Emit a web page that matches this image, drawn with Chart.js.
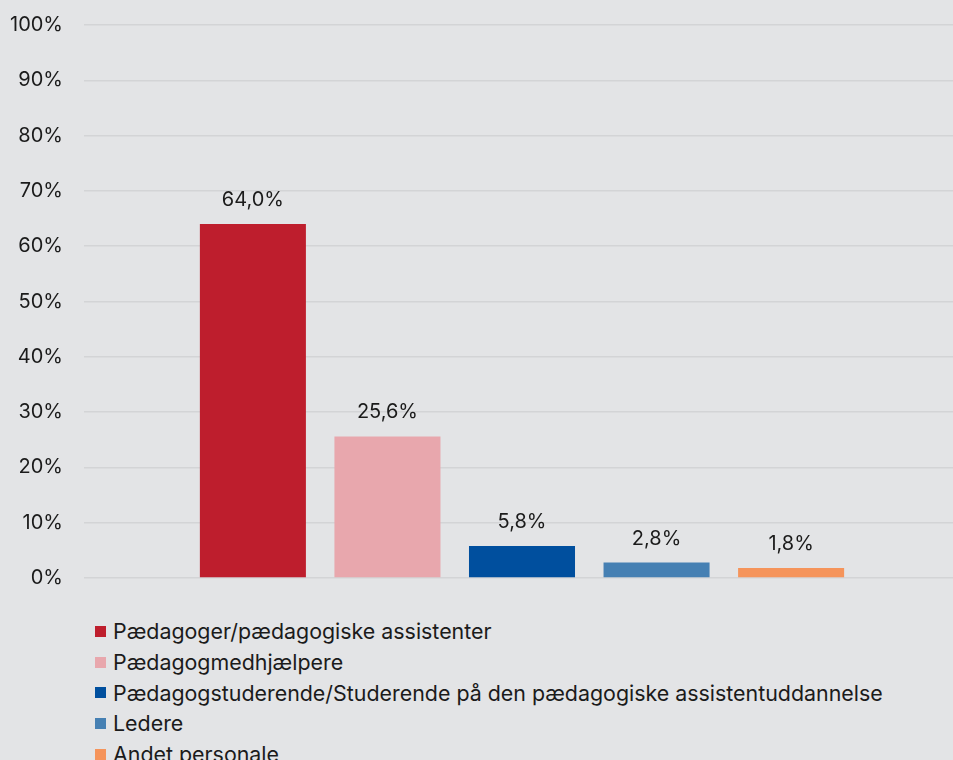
<!DOCTYPE html>
<html>
<head>
<meta charset="utf-8">
<script src="https://cdn.jsdelivr.net/npm/chart.js@4/dist/chart.umd.min.js"></script>
<style>
  html, body { margin: 0; padding: 0; background: #e3e4e6; overflow: hidden; width: 953px; height: 760px; }
  #wrap { position: absolute; left: 0; top: 0; width: 962px; height: 600px; }
  #legend { position: absolute; left: 95px; top: 616px; font-family: Inter, "Noto Sans", sans-serif; font-size: 21.4px; color: #1b1b1b; }
  .item { height: 30.7px; display: flex; align-items: center; white-space: nowrap; }
  .sw { width: 11px; height: 11px; margin-right: 7px; flex: none; }
</style>
</head>
<body>
<div id="wrap"><canvas id="c" width="962" height="600"></canvas></div>
<div id="legend"></div>
<script>
const categories = [''];
const seriesNames = [
  'Pædagoger/pædagogiske assistenter',
  'Pædagogmedhjælpere',
  'Pædagogstuderende/Studerende på den pædagogiske assistentuddannelse',
  'Ledere',
  'Andet personale'
];
const seriesValues = [64.0, 25.6, 5.8, 2.8, 1.8];
const seriesColors = ['#be1e2d', '#e8a7ad', '#004f9e', '#4680b3', '#f5945b'];
const yTicks = [0, 10, 20, 30, 40, 50, 60, 70, 80, 90, 100];

const fmt = v => v.toFixed(1).replace('.', ',') + '%';

const labelPlugin = {
  id: 'valueLabels',
  afterDatasetsDraw(chart) {
    const ctx = chart.ctx;
    ctx.save();
    ctx.font = '20px Inter, "Noto Sans", sans-serif';
    ctx.fillStyle = '#1b1b1b';
    ctx.textAlign = 'center';
    ctx.textBaseline = 'middle';
    chart.data.datasets.forEach((ds, i) => {
      const meta = chart.getDatasetMeta(i);
      meta.data.forEach((bar, j) => {
        ctx.fillText(fmt(ds.data[j]), bar.x, bar.y - 24);
      });
    });
    ctx.restore();
  }
};

new Chart(document.getElementById('c'), {
  type: 'bar',
  data: {
    labels: categories,
    datasets: seriesNames.map((n, i) => ({
      label: n,
      data: [seriesValues[i]],
      backgroundColor: seriesColors[i],
      borderWidth: 0
    }))
  },
  options: {
    responsive: false,
    devicePixelRatio: 1,
    animation: false,
    layout: { padding: { top: 25, bottom: 22, left: 0, right: 2 } },
    datasets: { bar: { categoryPercentage: 0.768, barPercentage: 0.788 } },
    plugins: { legend: { display: false }, tooltip: { enabled: false } },
    scales: {
      x: { display: false },
      y: {
        min: 0, max: 100,
        afterFit: s => { s.width = 84; s.paddingTop = 0; s.paddingBottom = 0; },
        afterBuildTicks: s => { s.ticks = yTicks.map(v => ({ value: v })); },
        ticks: {
          padding: 21,
          color: '#1b1b1b',
          font: { family: 'Inter, "Noto Sans", sans-serif', size: 20 },
          callback: v => v + '%'
        },
        grid: { color: '#d3d4d6', lineWidth: 1.5, drawTicks: false },
        border: { display: false }
      }
    }
  },
  plugins: [labelPlugin]
});

const leg = document.getElementById('legend');
seriesNames.forEach((n, i) => {
  const d = document.createElement('div');
  d.className = 'item';
  const s = document.createElement('span');
  s.className = 'sw';
  s.style.background = seriesColors[i];
  const t = document.createElement('span');
  t.textContent = n;
  d.appendChild(s); d.appendChild(t);
  leg.appendChild(d);
});
</script>
</body>
</html>
